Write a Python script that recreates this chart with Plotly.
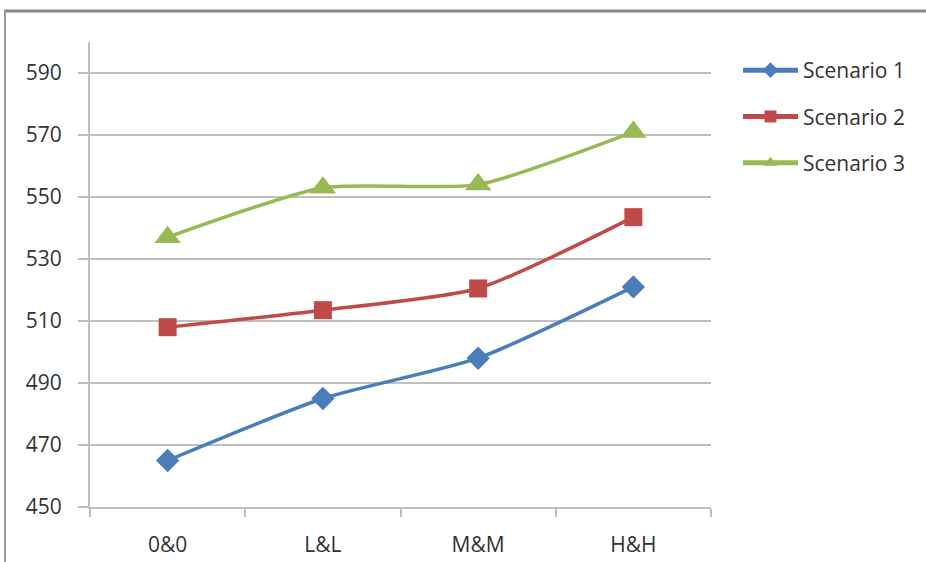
import plotly.graph_objects as go

categories = ["0&0", "L&L", "M&M", "H&H"]
scenario1 = [465, 485, 498, 521]
scenario2 = [508, 513.5, 520.5, 543.5]
scenario3 = [537, 553, 554, 571]
series_names = ["Scenario 1", "Scenario 2", "Scenario 3"]
tick_vals = [450, 470, 490, 510, 530, 550, 570, 590]

W, H = 926, 562
L, R, T, B = 90, 215, 42, 55
pw, ph = W - L - R, H - T - B

colors = ["#4A7EBB", "#BE4B48", "#98B954"]
symbols = ["diamond", "square", "triangle-up"]
sizes = [18, 18, 23]

fig = go.Figure()
for i, (name, vals) in enumerate(zip(series_names, [scenario1, scenario2, scenario3])):
    fig.add_trace(go.Scatter(
        x=categories, y=vals, name=name, mode="lines+markers",
        line=dict(color=colors[i], width=3.5, shape="spline", smoothing=0.6),
        marker=dict(symbol=symbols[i], size=sizes[i], color=colors[i]),
        legendgroup=f"g{i}",
    ))

def px_x(x):
    return (x - L) / pw

def px_y(y):
    return (H - B - y) / ph

txt = "#333333"
fig.update_layout(
    width=W, height=H,
    margin=dict(l=L, r=R, t=T, b=B, autoexpand=False),
    paper_bgcolor="white", plot_bgcolor="white",
    font=dict(family="Open Sans, Liberation Sans, sans-serif", size=21, color=txt),
    showlegend=True,
    legend=dict(
        x=px_x(738), y=px_y(50), xanchor="left", yanchor="top",
        font=dict(size=21, color=txt),
        tracegroupgap=16, itemwidth=55, itemsizing="constant",
        bgcolor="rgba(0,0,0,0)",
    ),
    xaxis=dict(
        type="category", range=[-0.5, 3.5], automargin=False,
        showline=True, linecolor="#BFBFBF", linewidth=2,
        ticks="outside", tickson="boundaries", ticklen=8, tickcolor="#BFBFBF", tickwidth=1.5,
        showgrid=False, zeroline=False,
        tickfont=dict(size=21, color=txt),
        ticklabelstandoff=18,
    ),
    yaxis=dict(
        range=[450, 600], tickvals=tick_vals, automargin=False,
        showline=True, linecolor="#BFBFBF", linewidth=2,
        ticks="outside", ticklen=10, tickcolor="#BFBFBF", tickwidth=1.5,
        showgrid=True, gridcolor="#BFBFBF", gridwidth=1.5,
        zeroline=False,
        tickfont=dict(size=21, color=txt),
        ticklabelstandoff=12,
    ),
    shapes=[
        dict(type="line", xref="paper", yref="paper",
             x0=px_x(4), x1=px_x(W + 5), y0=px_y(11), y1=px_y(11),
             line=dict(color="#8A8A8A", width=3)),
        dict(type="line", xref="paper", yref="paper",
             x0=px_x(5), x1=px_x(5), y0=px_y(11), y1=px_y(H + 5),
             line=dict(color="#9A9A9A", width=2)),
    ],
)

fig.write_html("out.html")
